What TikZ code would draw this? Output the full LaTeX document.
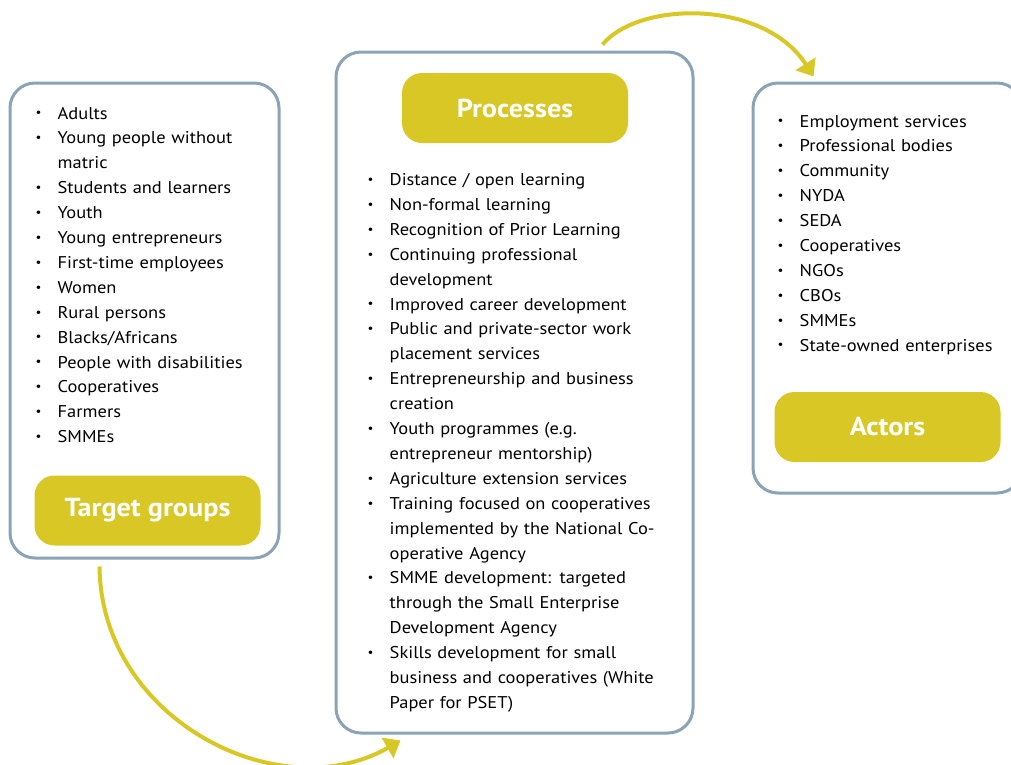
\documentclass[tikz,border=0pt]{standalone}
\usepackage{fontspec}
\setmainfont{PT Sans}[FakeStretch=1.085]
\usetikzlibrary{arrows.meta}
\definecolor{pillcol}{RGB}{217,199,38}
\definecolor{framecol}{RGB}{139,163,182}
\newcommand\bul{\makebox[22pt][l]{\raisebox{2.2pt}{\fontsize{12}{12}\selectfont\textbullet}}}
\newcommand\ind{\hspace*{22pt}}
\begin{document}
\begin{tikzpicture}[x=1pt,y=-1pt,
  framebox/.style={draw=framecol, line width=3pt, rounded corners=25pt, fill=white, inner sep=0pt},
  pillbox/.style={fill=pillcol, rounded corners=20pt, minimum width=226pt, minimum height=70pt, inner sep=0pt,
    text=white, font=\fontsize{26}{26}\selectfont\bfseries},
  listtext/.style={anchor=base west, inner sep=0pt, text width=320pt, align=left, font=\fontsize{17}{24.9}\selectfont},
  flow/.style={draw=pillcol, line width=4pt, -{Triangle[length=15pt,width=23pt]}}]
\useasboundingbox (0,0) rectangle (1011,764);
\clip (0,0) rectangle (1011,764);

% frames
\node[framebox, minimum width=269pt, minimum height=475pt] (L) at (144.5,320.5) {};
\node[framebox, minimum width=357pt, minimum height=681pt] (M) at (514.5,392.5) {};
\node[framebox, minimum width=269pt, minimum height=410pt] (R) at (887.5,288) {};

% title pills
\node[pillbox] (Lp) at (147.5,510.5) {Target groups};
\node[pillbox] (Mp) at (515,108) {Processes};
\node[pillbox] (Rp) at (887.5,427) {Actors};

% lists
\node[listtext] (Ll) at (35.5,119) {\bul Adults\\
\bul Young people without\\
\ind matric\\
\bul Students and learners\\
\bul Youth\\
\bul Young entrepreneurs\\
\bul First-time employees\\
\bul Women\\
\bul Rural persons\\
\bul Blacks/Africans\\
\bul People with disabilities\\
\bul Cooperatives\\
\bul Farmers\\
\bul SMMEs};

\node[listtext] (Ml) at (367.5,185.5) {\bul Distance / open learning\\
\bul Non-formal learning\\
\bul Recognition of Prior Learning\\
\bul Continuing professional\\
\ind development\\
\bul Improved career development\\
\bul Public and private-sector work\\
\ind placement services\\
\bul Entrepreneurship and business\\
\ind creation\\
\bul Youth programmes (e.g.\\
\ind entrepreneur mentorship)\\
\bul Agriculture extension services\\
\bul Training focused on cooperatives\\
\ind implemented by the National Co-\\
\ind operative Agency\\
\bul SMME development: targeted\\
\ind through the Small Enterprise\\
\ind Development Agency\\
\bul Skills development for small\\
\ind business and cooperatives (White\\
\ind Paper for PSET)};

\node[listtext] (Rl) at (777.5,127) {\bul Employment services\\
\bul Professional bodies\\
\bul Community\\
\bul NYDA\\
\bul SEDA\\
\bul Cooperatives\\
\bul NGOs\\
\bul CBOs\\
\bul SMMEs\\
\bul State-owned enterprises};

% connectors
\coordinate (a1) at ([xshift=91pt,yshift=-7pt]L.south west);
\coordinate (a2) at ([xshift=66pt,yshift=-6pt]M.south west);
\coordinate (b1) at ([xshift=268pt,yshift=6pt]M.north west);
\coordinate (b2) at ([xshift=62pt,yshift=5pt]R.north west);
\draw[flow] (a1) .. controls (101,720) and (280,810) .. (a2);
\draw[flow] (b1) .. controls (640,0) and (765,0) .. (b2);
\end{tikzpicture}
\end{document}
